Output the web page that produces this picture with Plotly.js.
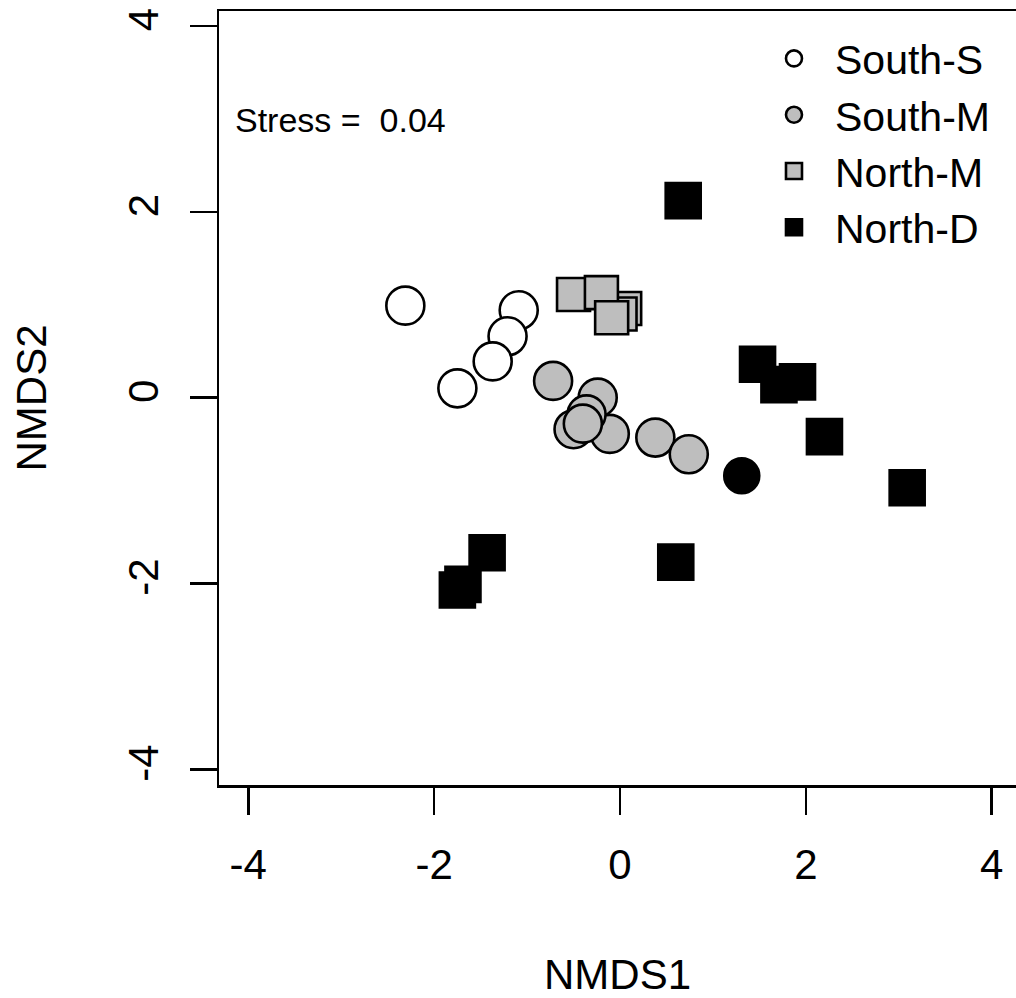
<!DOCTYPE html>
<html>
<head>
<meta charset="utf-8">
<script src="https://cdn.plot.ly/plotly-3.0.1.min.js"></script>
<style>html,body{margin:0;padding:0;background:#fff;overflow:hidden}</style>
</head>
<body>
<div id="chart" style="width:1016px;height:998px"></div>
<script>
// NMDS scores
var groupNames = ["South-S", "South-M", "North-M", "North-D"];

var southS_x = [-2.31, -1.09, -1.21, -1.37, -1.75];
var southS_y = [0.99, 0.94, 0.66, 0.39, 0.10];

var southM_x = [-0.72, -0.24, -0.11, -0.36, -0.50, -0.40, 0.38, 0.74];
var southM_y = [0.18, 0.00, -0.39, -0.18, -0.34, -0.28, -0.43, -0.61];

var northM_x = [0.05, 0.00, -0.50, -0.20, -0.09];
var northM_y = [0.96, 0.90, 1.11, 1.13, 0.86];

var northD_x = [0.68, 1.48, 1.71, 1.91, 2.20, 3.09, -1.43, -1.69, -1.75, 0.60, 1.31];
var northD_y = [2.12, 0.36, 0.14, 0.17, -0.42, -0.97, -1.67, -2.01, -2.07, -1.77, -0.84];
var northD_symbols = ["square", "square", "square", "square", "square", "square", "square", "square", "square", "square", "circle"];

var xTicks = [-4, -2, 0, 2, 4];
var yTicks = [-4, -2, 0, 2, 4];
var stressLabel = "Stress =  0.04";

var FONT = "Arial, 'Liberation Sans', sans-serif";
var GRAY = "#BEBEBE";

var traces = [
  {
    type: "scatter", mode: "markers", name: groupNames[0],
    x: southS_x, y: southS_y,
    marker: {symbol: "circle", size: 38, color: "#FFFFFF", line: {color: "#000000", width: 2.6}}
  },
  {
    type: "scatter", mode: "markers", name: groupNames[1],
    x: southM_x, y: southM_y,
    marker: {symbol: "circle", size: 38, color: GRAY, line: {color: "#000000", width: 2.6}}
  },
  {
    type: "scatter", mode: "markers", name: groupNames[2],
    x: northM_x, y: northM_y,
    marker: {symbol: "square", size: 33, color: GRAY, line: {color: "#000000", width: 2.6}}
  },
  {
    type: "scatter", mode: "markers", name: groupNames[3],
    x: northD_x, y: northD_y,
    marker: {symbol: northD_symbols, size: 35, color: "#000000", line: {color: "#000000", width: 2.6}}
  }
];

var layout = {
  width: 1016, height: 998,
  margin: {l: 219, r: 0, t: 11, b: 213, pad: 0},
  paper_bgcolor: "#FFFFFF", plot_bgcolor: "#FFFFFF",
  font: {family: FONT, color: "#000000", size: 42},
  showlegend: true,
  legend: {
    x: 0.670, y: 0.9816, xanchor: "left", yanchor: "top",
    font: {family: FONT, size: 41, color: "#000000"},
    bgcolor: "rgba(0,0,0,0)", borderwidth: 0,
    itemwidth: 72, tracegroupgap: 0
  },
  xaxis: {
    range: [-4.315, 4.261], autorange: false,
    tickmode: "array", tickvals: xTicks, ticktext: xTicks.map(String),
    ticks: "outside", ticklen: 27, tickwidth: 2.5, tickcolor: "#000000",
    showline: true, linewidth: 2.5, linecolor: "#000000", mirror: true,
    showgrid: false, zeroline: false,
    tickfont: {family: FONT, size: 42, color: "#000000"},
    ticklabelstandoff: 14,
    title: {text: "NMDS1", font: {family: FONT, size: 42, color: "#000000"}, standoff: 78}
  },
  yaxis: {
    range: [-4.169, 4.161], autorange: false,
    tickmode: "array", tickvals: yTicks, ticktext: yTicks.map(String),
    ticks: "outside", ticklen: 27, tickwidth: 2.5, tickcolor: "#000000",
    showline: true, linewidth: 2.5, linecolor: "#000000", mirror: false,
    showgrid: false, zeroline: false, tickangle: -90,
    tickfont: {family: FONT, size: 42, color: "#000000"},
    ticklabelstandoff: 15,
    title: {text: "NMDS2", font: {family: FONT, size: 42, color: "#000000"}, standoff: 60}
  },
  annotations: [{
    text: stressLabel, xref: "paper", yref: "paper",
    x: 0.0170, y: 0.8592, xanchor: "left", yanchor: "middle",
    showarrow: false, font: {family: FONT, size: 34, color: "#000000"}
  }]
};

Plotly.newPlot("chart", traces, layout, {displayModeBar: false, staticPlot: true});
</script>
</body>
</html>
